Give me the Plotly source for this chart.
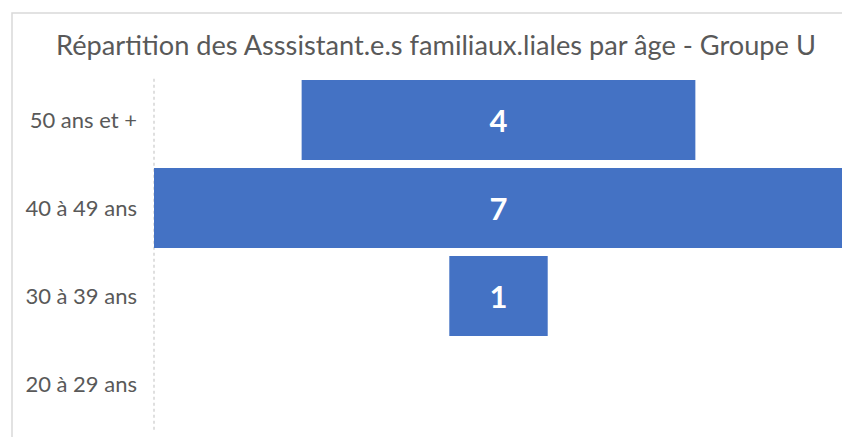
import plotly.graph_objects as go

categories = ["50 ans et +", "40 à 49 ans", "30 à 39 ans", "20 à 29 ans"]
values = [4, 7, 1, 0]
title_text = "Répartition des Asssistant.e.s familiaux.liales par âge - Groupe U"

# page body has an 8px margin, so the figure is placed at (8, 8) in the window
OFF = 8
W, H = 850 - OFF, 437 - OFF
ml, mr, mt, mb = 154 - OFF, 7, 76 - OFF, 9
pw = W - ml - mr
ph = H - mt - mb

bases = [-v / 2 for v in values]
labels = [str(v) if v else "" for v in values]

fig = go.Figure()
fig.add_trace(go.Bar(
    y=categories, x=values, base=bases, orientation="h",
    marker=dict(color="#4472C4", line=dict(width=0)),
    text=labels, textposition="inside", insidetextanchor="middle",
    textfont=dict(family="Lato", size=31, color="white", weight="bold"),
    hoverinfo="skip",
))

vmax = max(values)
fig.update_layout(
    width=W, height=H,
    margin=dict(l=ml, r=mr, t=mt, b=mb),
    paper_bgcolor="white", plot_bgcolor="white",
    bargap=0.09, showlegend=False,
    title=dict(text=title_text, x=(436 - OFF) / W, xanchor="center",
               y=1 - (45 - OFF) / H, yanchor="middle",
               font=dict(family="Lato", size=27.2, color="#595959")),
    xaxis=dict(range=[-vmax / 2, vmax / 2], visible=False, fixedrange=True,
               automargin=False),
    yaxis=dict(categoryorder="array", categoryarray=categories, autorange="reversed",
               showgrid=False, showline=False, zeroline=False, ticks="",
               ticklabelstandoff=16, automargin=False,
               tickfont=dict(family="Lato", size=22, color="#595959")),
)

# dotted vertical axis line at left of plot area
fig.add_shape(type="line", xref="paper", yref="paper", x0=0, x1=0, y0=-0.005, y1=1.0,
              line=dict(color="#BFBFBF", width=1, dash="dot"), layer="below")
# chart frame border
bx0 = (12 - OFF - ml) / pw
by1 = (H - mb - (13 - OFF)) / ph
fig.add_shape(type="rect", xref="paper", yref="paper", x0=bx0, x1=1 + 20 / pw,
              y0=-30 / ph, y1=by1, line=dict(color="#D9D9D9", width=1.5), layer="below")

fig.write_html("out.html")
